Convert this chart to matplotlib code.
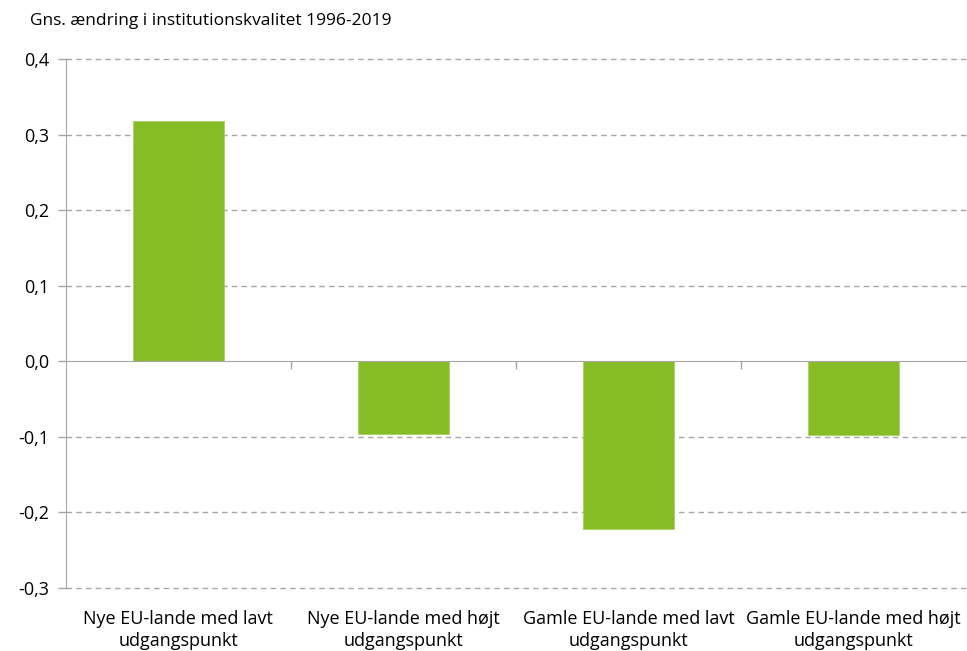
import numpy as np
import matplotlib.pyplot as plt
from matplotlib.ticker import FuncFormatter, FixedLocator
import matplotlib.transforms as mtransforms

plt.rcParams['font.family'] = ['Open Sans', 'DejaVu Sans']

# Data
categories = ["Nye EU-lande med lavt\nudgangspunkt",
              "Nye EU-lande med højt\nudgangspunkt",
              "Gamle EU-lande med lavt\nudgangspunkt",
              "Gamle EU-lande med højt\nudgangspunkt"]
values = [0.318, -0.096, -0.222, -0.098]
yticks = [-0.3, -0.2, -0.1, 0.0, 0.1, 0.2, 0.3, 0.4]

green = "#86BC25"
grey = "#A6A6A6"

fig = plt.figure(figsize=(9.67, 6.51), dpi=100)
ax = fig.add_axes([0.068, 0.097, 0.931, 0.812])

x = np.arange(len(categories))
ax.bar(x, values, width=0.405, color=green, edgecolor="#A9D065", linewidth=0.6, zorder=3)

ax.set_xlim(-0.5, len(categories) - 0.5)
ax.set_ylim(-0.3, 0.4)
ax.set_yticks(yticks)
ax.yaxis.set_major_formatter(FuncFormatter(lambda v, p: f"{v:.1f}".replace(".", ",")))

# dashed gridlines except at zero
for yv in yticks:
    if abs(yv) > 1e-9:
        ax.axhline(yv, color=grey, linestyle=(0, (4, 3)), linewidth=1, zorder=1, clip_on=False)

for s in ["top", "right"]:
    ax.spines[s].set_visible(False)
ax.spines["left"].set_color(grey)
ax.spines["bottom"].set_color(grey)
ax.spines["bottom"].set_position(("data", 0))
ax.spines["bottom"].set_zorder(4)

ax.tick_params(axis="y", colors=grey, length=6, width=1, labelsize=13, labelcolor="#000000", pad=6)
ax.xaxis.set_major_locator(FixedLocator(list(x)))
ax.xaxis.set_minor_locator(FixedLocator([i + 0.5 for i in range(len(categories) - 1)]))
ax.tick_params(axis="x", which="major", length=0, labelbottom=False)
ax.tick_params(axis="x", which="minor", length=6, width=1, color=grey)

trans = mtransforms.blended_transform_factory(ax.transData, ax.transAxes)
for xi, lab in zip(x, categories):
    ax.text(xi, -0.041, lab, transform=trans, ha="center", va="top",
            fontsize=13, linespacing=1.3)

fig.text(0.031, 0.968, "Gns. ændring i institutionskvalitet 1996-2019",
         ha="left", va="center", fontsize=12.5)

fig.savefig("out.png", dpi=100)
